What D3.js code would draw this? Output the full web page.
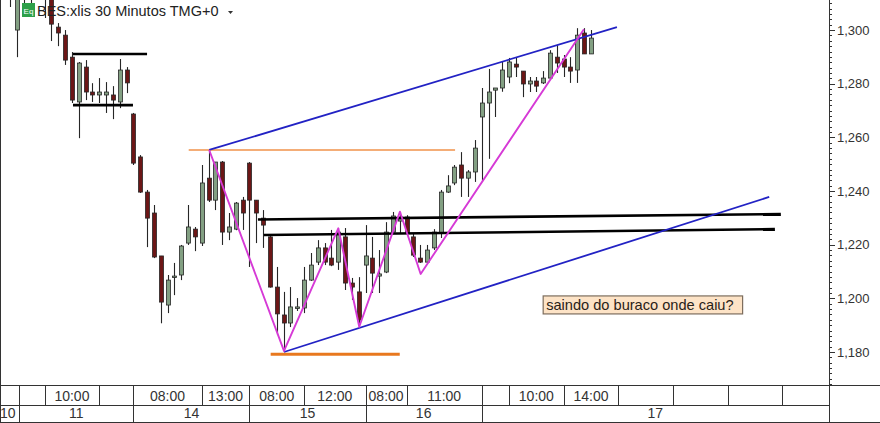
<!DOCTYPE html>
<html><head><meta charset="utf-8">
<script src="https://cdn.jsdelivr.net/npm/d3@7"></script>
<style>body{margin:0;background:#fff}svg{display:block;font-family:"Liberation Sans",Arial,sans-serif}</style>
</head><body><svg id="c" width="880" height="423"></svg>
<script>
// ---- data (30-minute bars, index = bar position) ----
const barIndex = d3.range(1, 87);
const open = [1.3200,1.3000,1.3180,1.3170,1.3190,1.3180,1.3130,1.3011,1.2981,1.2899,
1.2732,1.2862,1.2769,1.2758,1.2758,1.2758,1.2732,1.2851,1.2687,1.2527,
1.2396,1.2318,1.2158,1.1975,1.2080,1.2087,1.2206,1.2258,1.2206,1.2448,
1.2366,1.2508,1.2247,1.2258,1.2366,1.2504,1.2366,1.2299,1.2229,1.2042,
1.1938,1.1908,1.1964,1.1964,1.2068,1.2135,1.2188,1.2150,1.2135,1.2229,
1.2057,1.2024,1.2124,1.2150,1.2083,1.2098,1.2247,1.2288,1.2303,1.2229,
1.2150,1.2135,1.2188,1.2243,1.2396,1.2430,1.2497,1.2448,1.2471,1.2676,
1.2728,1.2776,1.2784,1.2825,1.2873,1.2847,1.2799,1.2810,1.2803,1.2821,
1.2899,1.2892,1.2862,1.2851,1.2989,1.2911];
const high = [1.3220,1.3160,1.3200,1.3210,1.3220,1.3200,1.3140,1.3026,1.3000,1.2918,
1.2881,1.2888,1.2802,1.2821,1.2806,1.2791,1.2892,1.2862,1.2691,1.2534,
1.2404,1.2348,1.2158,1.2087,1.2132,1.2199,1.2348,1.2266,1.2497,1.2553,
1.2508,1.2512,1.2318,1.2359,1.2378,1.2508,1.2366,1.2329,1.2232,1.2117,
1.2024,1.2042,1.2001,1.2117,1.2169,1.2217,1.2206,1.2255,1.2262,1.2262,
1.2076,1.2079,1.2273,1.2229,1.2180,1.2284,1.2322,1.2322,1.2310,1.2240,
1.2199,1.2199,1.2258,1.2404,1.2459,1.2497,1.2545,1.2478,1.2590,1.2784,
1.2855,1.2784,1.2881,1.2896,1.2896,1.2847,1.2825,1.2825,1.2847,1.2925,
1.2944,1.2907,1.2899,1.3007,1.3007,1.3000];
const low = [1.3086,1.2899,1.3098,1.3100,1.3115,1.3045,1.2959,1.2940,1.2870,1.2728,
1.2597,1.2739,1.2732,1.2728,1.2691,1.2668,1.2709,1.2765,1.2497,1.2393,
1.2191,1.2150,1.1907,1.1945,1.2012,1.2068,1.2199,1.2176,1.2195,1.2359,
1.2329,1.2199,1.2217,1.2254,1.2255,1.2117,1.2206,1.2188,1.2040,1.1863,
1.1804,1.1893,1.1953,1.1945,1.2065,1.2124,1.2124,1.2120,1.2106,1.2031,
1.1994,1.1905,1.2020,1.2020,1.2020,1.2094,1.2243,1.2243,1.2240,1.2154,
1.2132,1.2132,1.2180,1.2225,1.2393,1.2422,1.2378,1.2378,1.2434,1.2434,
1.2520,1.2676,1.2770,1.2802,1.2825,1.2750,1.2769,1.2769,1.2799,1.2814,
1.2840,1.2825,1.2803,1.2803,1.2911,1.2911];
const close = [1.3150,1.3140,1.3150,1.3190,1.3160,1.3120,1.3022,1.2989,1.2888,1.2739,
1.2877,1.2769,1.2758,1.2769,1.2769,1.2739,1.2851,1.2803,1.2504,1.2396,
1.2299,1.2154,1.1986,1.2068,1.2083,1.2195,1.2266,1.2229,1.2430,1.2366,
1.2508,1.2247,1.2266,1.2355,1.2318,1.2366,1.2318,1.2273,1.2042,1.1942,
1.1908,1.1968,1.1968,1.2068,1.2124,1.2188,1.2135,1.2124,1.2247,1.2057,
1.2042,1.1919,1.2158,1.2094,1.2091,1.2247,1.2307,1.2303,1.2243,1.2161,
1.2135,1.2180,1.2247,1.2396,1.2419,1.2489,1.2448,1.2471,1.2560,1.2728,
1.2769,1.2784,1.2851,1.2881,1.2862,1.2799,1.2810,1.2791,1.2821,1.2914,
1.2877,1.2862,1.2847,1.2981,1.2911,1.2970];

const priceTicks = [1.18, 1.20, 1.22, 1.24, 1.26, 1.28, 1.30];
const priceTickLabels = ["1,180", "1,200", "1,220", "1,240", "1,260", "1,280", "1,300"];
const timeTicks = [2.3, 6, 14, 19, 29, 36, 44, 53, 59, 70, 74, 82, 90, 98, 106, 114];
const timeLabels = ["", "10:00", "", "08:00", "13:00", "08:00", "12:00", "08:00", "11:00", "", "10:00", "14:00", "", "", "", ""];
const dayTicks = [-15, 2.3, 19, 36, 53, 70];
const dayLabels = ["10", "11", "14", "15", "16", "17"];

// drawn annotations, [bar index, price]
const upperChannel = [[30.1, 1.2553], [89.8, 1.3011]];
const lowerChannel = [[41.05, 1.1800], [112.1, 1.2378]];
const zigzag = [[30.1, 1.2553], [41.05, 1.1804], [49.0, 1.2261], [52.07, 1.1894], [58.03, 1.2323], [61.06, 1.2091], [84.97, 1.3003]];
const orangeHigh = [[27.1, 1.2553], [66.1, 1.2553]];
const orangeLow = [[39.1, 1.1792], [58.0, 1.1792]];
const rangeTop = [[10.16, 1.2911], [21.0, 1.2911]];
const rangeBottom = [[10.16, 1.2720], [18.94, 1.2720]];
const resistUpper = [[37.24, 1.2294], [113.8, 1.2314]];
const resistLower = [[38.1, 1.2236], [112.93, 1.2258]];
const noteAnchor = [79.0, 1.2009];
const noteText = "saindo do buraco onde caiu?";
const titleText = "BES:xlis 30 Minutos TMG+0";

// ---- layout ----
const W = 880, H = 423, plotR = 829, plotB = 385, row1B = 405;
const x = d3.scaleLinear().domain([-0.53, 120.85]).range([0, plotR]);
const y = d3.scaleLinear().domain([1.1677, 1.3112]).range([plotB, 0]);
const svg = d3.select("#c");
svg.append("rect").attr("width", W).attr("height", H).attr("fill", "#fff");
svg.append("defs").append("clipPath").attr("id", "pc")
  .append("rect").attr("x", 0).attr("y", 0).attr("width", plotR).attr("height", plotB);

const plot = svg.append("g").attr("clip-path", "url(#pc)");
const bars = barIndex.map((d, i) => ({i: d, o: open[i], h: high[i], l: low[i], c: close[i]}));
const cg = plot.append("g");
cg.selectAll("line.w").data(bars).join("line")
  .attr("x1", d => Math.round(x(d.i)) + 0.5).attr("x2", d => Math.round(x(d.i)) + 0.5)
  .attr("y1", d => y(d.h)).attr("y2", d => y(d.l))
  .attr("stroke", "#262626").attr("stroke-width", 1.1);
cg.selectAll("rect.b").data(bars).join("rect")
  .attr("x", d => Math.round(x(d.i)) - 1.5).attr("width", 4)
  .attr("y", d => y(Math.max(d.o, d.c)))
  .attr("height", d => Math.max(1.5, Math.abs(y(d.o) - y(d.c))))
  .attr("fill", d => d.c >= d.o ? "#83a083" : "#6c1616")
  .attr("stroke", "#262626").attr("stroke-width", 0.8);

const line = d3.line().x(d => x(d[0])).y(d => y(d[1]));
function draw(pts, color, w) {
  plot.append("path").attr("d", line(pts)).attr("fill", "none")
    .attr("stroke", color).attr("stroke-width", w).attr("stroke-linejoin", "round");
}
draw(orangeHigh, "#f0924a", 1.7);
draw(orangeLow, "#e8781e", 3);
draw(rangeTop, "#000", 2.6);
draw(rangeBottom, "#000", 2.6);
draw(resistUpper, "#000", 2.6);
draw(resistLower, "#000", 2.6);
draw(upperChannel, "#2222c4", 1.8);
draw(lowerChannel, "#2222c4", 1.8);
draw(zigzag, "#d63ad6", 1.9);

// note box
const ng = svg.append("g");
const nt = ng.append("text").attr("x", x(noteAnchor[0]) + 3).attr("y", y(noteAnchor[1]) + 14)
  .attr("font-size", 14.6).attr("fill", "#2a2218").text(noteText);
const bb = nt.node().getBBox();
ng.insert("rect", "text").attr("x", x(noteAnchor[0])).attr("y", y(noteAnchor[1]))
  .attr("width", bb.width + 12).attr("height", 18)
  .attr("fill", "#fde3c6").attr("stroke", "#7d6d5d").attr("stroke-width", 1.2);

// title
svg.append("rect").attr("x", 22).attr("y", 3).attr("width", 13).attr("height", 14).attr("fill", "#2ea04a");
svg.append("text").attr("x", 28.5).attr("y", 13.5).attr("text-anchor", "middle").attr("font-size", 8)
  .attr("fill", "#fff").text("Eq");
svg.append("text").attr("x", 37).attr("y", 16).attr("font-size", 14.5).attr("fill", "#222").text(titleText);
svg.append("path").attr("d", "M228,11 L233,11 L230.5,14 Z").attr("fill", "#333");

// right axis
const ax = svg.append("g");
ax.selectAll("line.mn").data(d3.range(1168, 1312, 2).map(v => v / 1000)).join("line")
  .attr("x1", plotR).attr("x2", plotR + 3)
  .attr("y1", d => Math.round(y(d)) + 0.5).attr("y2", d => Math.round(y(d)) + 0.5)
  .attr("stroke", "#333").attr("stroke-width", 1);
ax.selectAll("line.mj").data(priceTicks).join("line")
  .attr("x1", plotR).attr("x2", plotR + 6)
  .attr("y1", d => Math.round(y(d)) + 0.5).attr("y2", d => Math.round(y(d)) + 0.5)
  .attr("stroke", "#333").attr("stroke-width", 1);
ax.selectAll("text").data(priceTicks).join("text")
  .attr("x", plotR + 8).attr("y", d => y(d) + 4.5).attr("font-size", 13).attr("fill", "#333")
  .text((d, i) => priceTickLabels[i]);

// bottom axis rows
const bg = svg.append("g").attr("stroke", "#333").attr("stroke-width", 1);
bg.append("line").attr("x1", 0).attr("x2", W).attr("y1", plotB + 0.5).attr("y2", plotB + 0.5);
bg.append("line").attr("x1", 0).attr("x2", plotR).attr("y1", row1B + 0.5).attr("y2", row1B + 0.5);
bg.append("line").attr("x1", plotR + 0.5).attr("x2", plotR + 0.5).attr("y1", 0).attr("y2", H);
bg.selectAll("line.t").data(timeTicks).join("line")
  .attr("x1", d => Math.round(x(d)) + 0.5).attr("x2", d => Math.round(x(d)) + 0.5)
  .attr("y1", plotB).attr("y2", row1B);
bg.selectAll("line.d").data(dayTicks.filter(d => x(d) > 0)).join("line")
  .attr("x1", d => Math.round(x(d)) + 0.5).attr("x2", d => Math.round(x(d)) + 0.5)
  .attr("y1", row1B).attr("y2", H);
bg.append("line").attr("x1", 0.5).attr("x2", 0.5).attr("y1", 0).attr("y2", H);
bg.append("line").attr("x1", 0).attr("x2", W).attr("y1", H - 0.5).attr("y2", H - 0.5);

const tl = svg.append("g").attr("font-size", 14).attr("fill", "#333").attr("text-anchor", "middle");
timeTicks.forEach((t, i) => {
  if (!timeLabels[i]) return;
  const x0 = x(t), x1 = i + 1 < timeTicks.length ? x(timeTicks[i + 1]) : plotR;
  tl.append("text").attr("x", (x0 + x1) / 2).attr("y", 401).text(timeLabels[i]);
});
dayTicks.forEach((t, i) => {
  const x0 = Math.max(0, x(t)), x1 = i + 1 < dayTicks.length ? x(dayTicks[i + 1]) : plotR;
  tl.append("text").attr("x", (x0 + x1) / 2 - (x(t) < 0 ? 2 : 0)).attr("y", 418).text(dayLabels[i]);
});
</script></body></html>
